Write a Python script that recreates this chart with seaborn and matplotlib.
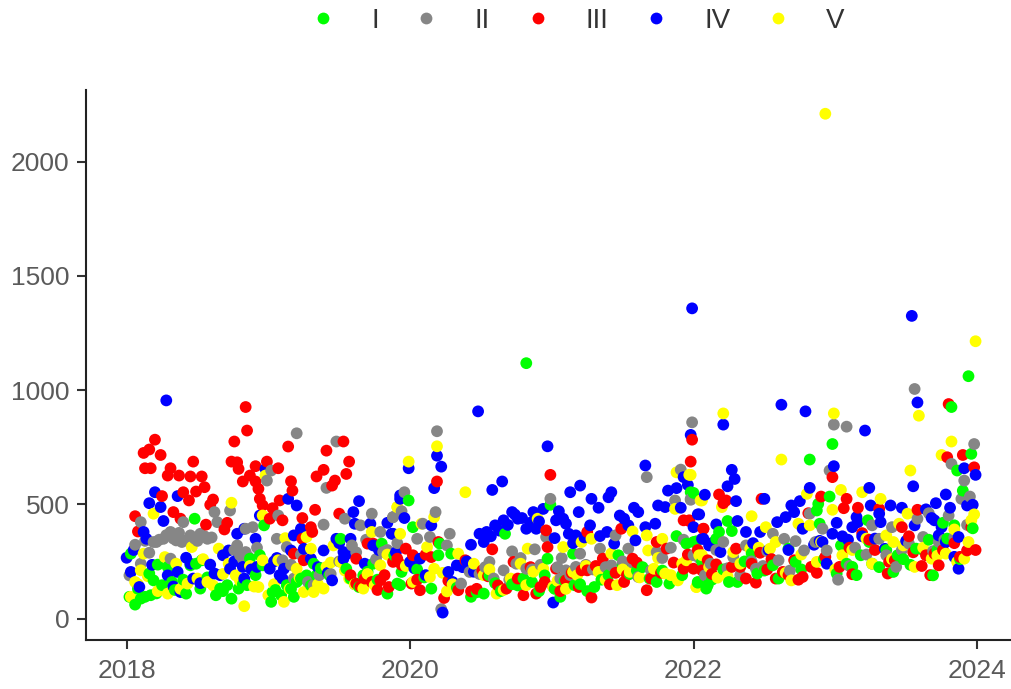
import matplotlib
matplotlib.use("Agg")
import pandas as pd
import matplotlib.pyplot as plt
import seaborn as sns

# values: decimal year / value per group
years_I = [2018.03,2018.02,2018.06,2018.10,2018.13,2018.17,2018.16,2018.22,2018.19,2018.25,2018.29,2018.32,2018.42,2018.45,2018.49,2018.53,2018.52,2018.48,2018.63,2018.66,2018.71,2018.74,2018.79,2018.85,2018.94,2018.96,2018.87,2018.97,2019.02,2019.03,2019.09,2019.18,2019.13,2019.20,2019.27,2019.34,2019.32,2019.51,2019.55,2019.64,2019.67,2019.74,2019.80,2019.84,2019.89,2019.93,
           2019.99,2020.67,2020.99,2021.98,2021.88,2020.02,2019.89,2021.95,2022.02,2020.97,2021.15,2021.47,2020.21,2020.20,2020.29,2019.94,2019.91,2020.15,2020.43,2020.52,2021.06,2021.30,2021.16,2021.74,2021.83,2022.03,2022.09,2020.95,2021.50,2020.56,2020.72,2020.80,2021.25,2021.60,
           2020.82,2023.94,2023.82,2022.82,2022.98,2023.96,2023.86,2023.90,2022.96,2022.88,2022.87,2022.89,2022.24,2022.27,2022.18,2022.16,2022.00,2022.00,2023.23,2023.76,2023.84,2022.25,2022.10,2022.03,2023.69,2023.44,2023.26,2023.12,2023.18,2023.01,2022.45,2022.67,2022.56,2022.72,2023.41,2023.57,2023.24,2023.04,
           2018.08,2018.21,2018.34,2018.40,2018.57,2018.68,2018.82,2018.91,2019.05,2019.16,2019.23,2019.30,2019.37,2019.43,2019.58,2019.61,2019.70,2019.77,2020.05,2020.10,2020.33,2020.47,2020.60,2020.64,2020.76,2020.86,2020.91,2021.02,2021.09,2021.20,2021.35,2021.40,2021.55,2021.64,2021.69,2021.78,2021.92,2022.06,2022.13,2022.21,2022.31,2022.36,2022.41,2022.50,2022.60,2022.76,2022.92,2023.08,2023.15,2023.31,2023.36,2023.48,2023.53,2023.62,2023.66,2023.72,2023.79,2023.88,2023.97]
values_I = [284,95,61,87,95,102,197,236,167,146,226,160,109,233,240,255,131,437,102,131,146,87,131,146,277,233,262,408,73,116,102,95,146,160,189,189,240,349,218,138,189,240,328,109,277,146,
            517,371,498,553,361,400,277,328,338,262,284,277,328,277,284,204,153,131,95,109,95,138,146,160,153,160,131,189,233,189,150,175,120,210,
            1118,1061,926,696,764,721,648,560,534,502,473,415,427,383,379,349,550,335,430,419,408,160,146,157,189,277,240,226,277,197,197,306,233,248,204,306,335,320,
            130,110,125,170,180,120,150,190,125,130,175,145,220,190,175,150,205,170,215,180,135,115,155,120,145,160,120,130,165,150,170,190,195,225,175,210,190,250,170,215,160,250,285,210,175,215,260,240,190,225,300,260,235,300,345,300,350,260,395]

years_II = [2018.06,2018.10,2018.16,2018.21,2018.26,2018.31,2018.35,2018.39,2018.40,2018.45,2018.52,2018.57,2018.31,2018.10,2018.02,2018.62,2018.64,2018.73,2018.78,2018.80,2018.84,2018.89,2018.84,2018.99,2019.02,2019.07,2019.06,2019.13,2019.20,2019.39,2019.41,2019.48,2019.54,2019.73,2019.65,2019.59,2019.32,2019.18,2019.10,2019.79,2019.88,2019.81,
            2020.19,2021.99,2019.96,2020.18,2019.94,2019.88,2020.09,2020.14,2020.05,2020.28,2020.26,2020.99,2021.87,2021.98,2021.91,2021.67,2020.72,2020.78,2020.88,2021.07,2021.20,2021.34,2021.54,2021.74,2020.56,2020.66,2020.82,2021.10,2021.01,2021.06,2021.17,2021.42,2021.61,2020.22,2020.36,2020.42,2022.09,2020.96,2021.45,
            2022.99,2023.08,2023.56,2022.96,2023.98,2023.82,2023.91,2023.95,2023.89,2023.80,2023.66,2023.58,2022.91,2022.82,2021.98,2022.72,2022.56,2022.21,2022.00,2022.08,2022.44,2022.78,2022.94,2023.02,2023.43,2023.36,2023.31,2023.26,2023.40,2023.52,2023.62,2023.73,2022.28,2022.37,2022.64,
            2018.13,2018.19,2018.23,2018.28,2018.33,2018.37,2018.43,2018.48,2018.50,2018.55,2018.60,2018.76,2018.82,2018.86,2018.92,2019.16,2019.23,2019.28,2019.36,2019.44,2019.50,2019.62,2019.69,2019.76,2019.84,2019.91,2020.49,2020.53,2020.59,2020.70,2020.75,2020.86,2020.92,2021.04,2021.13,2021.24,2021.29,2021.38,2021.50,2021.57,2021.70,2021.78,2021.84,2021.93,2022.04,2022.12,2022.16,2022.24,2022.33,2022.41,2022.49,2022.52,2022.60,2022.68,2022.86,2023.10,2023.14,2023.22,2023.47,2023.69,2023.77,2023.84,2023.93]
values_II = [323,422,288,335,349,379,342,335,422,364,371,349,262,240,189,466,422,473,320,277,291,400,393,604,648,451,349,313,811,411,572,775,437,459,408,320,146,175,255,379,444,291,
             820,859,553,466,470,444,415,357,349,371,320,524,517,520,652,619,294,265,303,265,284,306,306,291,248,211,218,211,138,175,226,233,182,41,153,204,189,357,364,
             849,840,1005,648,764,677,604,534,524,451,461,437,393,459,524,339,371,335,277,189,218,298,298,170,226,277,349,408,400,328,357,335,269,320,349,
             340,335,345,365,350,375,345,350,340,360,355,300,260,270,310,235,280,160,190,195,250,290,345,260,300,330,195,225,175,170,240,215,235,225,190,235,215,225,250,245,210,265,310,345,265,240,300,220,190,250,230,295,255,210,335,230,310,280,300,295,345,355,410]

years_III = [2018.06,2018.08,2018.20,2018.16,2018.12,2018.24,2018.13,2018.17,2018.25,2018.31,2018.29,2018.37,2018.45,2018.53,2018.47,2018.55,2018.49,2018.40,2018.44,2018.33,2018.38,2018.56,2018.61,2018.59,2018.71,2018.69,2018.76,2018.85,2018.84,2018.74,2018.78,2018.79,2018.91,2018.99,2019.07,2018.82,2018.87,2018.91,2018.93,2018.94,2018.96,2019.03,2019.08,2019.01,2019.10,2019.14,2019.16,2019.17,2019.24,2019.30,2019.31,2019.33,2019.41,2019.34,2019.39,2019.45,2019.47,2019.53,2019.57,2019.55,2019.50,
             2019.62,2019.70,2019.74,2019.73,2019.62,2019.79,2019.85,2019.88,2019.24,2019.18,2019.25,
             2020.99,2020.19,2021.99,2021.98,2021.93,2021.97,2022.07,2020.96,2020.97,2020.58,2021.25,2021.49,2021.74,2019.97,2019.91,2020.02,2020.15,2020.20,2020.39,2020.24,2020.34,2020.43,2020.07,2020.01,2020.73,2020.51,2020.68,2020.80,2020.89,2020.92,2021.19,2021.10,2021.28,2021.67,2021.21,2021.36,2021.57,2021.81,2021.93,2021.51,2021.03,2021.25,
             2023.80,2022.98,2022.18,2022.21,2022.23,2022.48,2022.90,2023.08,2023.06,2023.16,2023.58,2023.79,2023.90,2023.98,2023.96,2023.47,2023.19,2022.07,2023.31,2021.97,2022.81,2022.44,2022.77,2022.58,2022.16,2022.00,2022.06,2022.27,2022.33,2022.47,2022.63,2022.71,2022.83,2023.03,2023.12,2023.37,2023.38,2023.64,2023.70,2023.73,2023.93,2022.30,
             2019.58,2019.65,2019.68,2019.77,2019.82,2019.94,2020.05,2020.11,2020.27,2020.47,2020.55,2020.62,2020.76,2020.85,2020.95,2021.06,2021.14,2021.31,2021.41,2021.45,2021.53,2021.60,2021.70,2021.77,2021.86,2021.96,2022.03,2022.10,2022.13,2022.37,2022.41,2022.52,2022.55,2022.67,2022.74,2022.87,2022.93,2023.10,2023.24,2023.28,2023.42,2023.52,2023.55,2023.61,2023.67,2023.76,2023.84,2023.88,2023.99]
values_III = [448,381,783,740,725,716,658,658,536,658,626,626,622,622,687,575,556,553,517,466,437,411,521,498,419,390,775,823,926,687,684,655,667,687,658,600,626,600,568,524,495,483,517,437,430,753,601,560,440,400,379,476,735,622,651,582,604,775,687,633,459,
              262,328,328,160,153,167,138,248,349,284,255,
              629,600,783,687,430,427,393,386,313,303,379,393,335,306,262,277,269,335,255,90,124,119,124,153,248,211,131,102,109,138,138,167,92,124,211,262,262,306,218,160,218,211,
              939,619,543,505,517,524,534,524,483,485,476,706,716,662,400,400,374,393,480,430,461,157,182,175,237,218,211,226,226,288,204,255,226,226,194,197,248,277,284,233,298,306,
              190,140,175,125,190,235,170,280,165,130,185,145,175,225,160,120,200,230,150,200,190,245,175,200,245,280,300,255,195,175,240,215,260,190,170,200,270,310,345,300,255,360,290,230,190,300,330,270,300]

years_IV = [2018.28,2018.20,2018.16,2018.24,2018.36,2018.26,2018.12,2018.14,2018.00,2018.03,2018.09,2018.29,2018.36,2018.42,2018.38,2018.47,2018.59,2018.62,2018.68,2018.72,2018.83,2018.78,2018.91,2018.94,2018.98,2019.06,2019.01,2019.11,2019.10,2018.82,2018.73,2018.83,2018.92,2019.14,2019.20,2019.16,2019.23,2019.18,2019.30,2019.39,2019.45,2019.53,2019.48,2019.64,2019.60,2019.61,2019.72,2019.58,2019.53,2019.84,2019.74,2019.87,2019.93,
            2020.48,2020.97,2020.65,2020.58,2019.99,2020.19,2020.22,2020.17,2019.93,2019.96,2020.15,2019.88,2020.43,2020.49,2020.54,2020.60,2020.66,2020.72,2020.76,2020.82,2020.87,2020.94,2020.89,2021.03,2021.08,2021.10,2021.02,2021.13,2021.20,2021.19,2021.28,2021.33,2021.27,2021.12,2021.17,2021.34,2021.39,2021.42,2021.40,2021.48,2021.51,2021.54,2021.58,2021.61,2021.59,2021.66,2021.75,2021.80,2021.82,2021.88,2021.91,2021.93,2021.96,2022.03,2022.08,2021.98,2022.00,2021.66,2021.73,2021.44,2022.06,2021.01,2020.23,2020.27,2020.33,2020.07,2020.00,
            2021.99,2023.54,2022.62,2022.79,2023.21,2023.58,2022.21,2022.27,2022.29,2022.24,2022.30,2022.50,2022.04,2022.31,2022.16,2022.82,2022.99,2023.24,2023.55,2023.99,2023.91,2023.78,2023.71,2023.81,2023.93,2023.97,2023.39,2023.47,2023.25,2023.64,2023.31,2022.75,2022.69,2022.71,2022.65,2022.59,2023.01,2023.15,2023.16,2022.77,2022.98,2023.05,2022.91,2022.85,2022.94,2022.37,2022.47,2022.11,2022.19,2022.07,2023.87,2023.87,2023.73,2023.78,2023.56,2023.70,2023.32,
            2018.05,2018.18,2018.33,2018.45,2018.52,2018.66,2018.76,2018.88,2019.04,2019.08,2019.25,2019.35,2019.42,2019.50,2019.56,2019.68,2019.78,2019.90,2020.03,2020.11,2020.30,2020.37,2020.40,2020.45,2020.52,2020.57,2020.63,2020.69,2020.74,2020.79,2020.85,2020.91,2021.05,2021.15,2021.23,2022.13,2022.42,2022.53,2022.67,2022.89,2023.09,2023.12,2023.19,2023.28,2023.35,2023.50,2023.68,2023.75,2023.84]
values_IV = [955,553,505,488,536,427,379,349,266,204,138,189,204,266,116,175,236,197,277,298,393,371,349,451,655,265,218,218,175,226,218,175,226,524,495,298,393,364,262,298,167,291,349,514,466,415,415,349,262,419,320,371,524,
             907,754,600,563,658,713,665,571,539,440,408,371,323,371,379,408,430,466,437,393,466,480,393,430,437,415,352,553,582,466,524,485,408,371,364,361,379,553,531,451,437,408,485,466,342,670,495,488,560,571,485,619,585,456,542,804,400,400,415,328,349,70,26,204,233,262,248,
             1358,1325,936,907,823,946,849,651,611,579,514,524,456,427,412,572,667,572,579,629,658,543,505,485,495,498,495,485,495,478,459,514,495,466,444,422,419,444,422,393,371,360,335,323,240,379,379,320,291,349,218,357,364,335,408,430,422,
             300,235,140,240,155,190,250,215,250,190,305,225,200,330,285,240,300,290,220,190,160,225,250,205,335,360,385,410,455,440,420,425,470,330,355,330,330,300,300,340,345,400,360,350,305,340,440,400,270]

years_V = [2018.74,2018.98,2018.96,2018.19,2018.46,2018.65,2018.27,2018.12,2018.03,2018.83,2018.93,2018.10,2018.06,2018.29,2018.43,2018.57,2018.77,2018.72,2018.96,2019.11,2019.00,2019.25,2019.32,2019.39,2019.30,2019.27,2019.12,2019.20,2019.41,2019.57,2019.67,2019.46,2019.51,2019.73,2019.91,2019.79,2019.75,
           2019.99,2020.19,2020.39,2020.17,2019.91,2019.93,2020.08,2020.90,2020.83,2021.08,2021.21,2021.28,2021.57,2021.67,2021.68,2021.78,2021.88,2021.97,2021.87,2022.05,2020.12,2020.34,2020.17,2020.02,2020.14,2020.26,2020.45,2020.61,2020.94,2021.01,2021.33,2021.46,2021.72,2021.89,2022.02,2022.04,2021.55,2021.80,2021.95,2021.15,2020.82,
           2022.93,2023.99,2022.21,2022.99,2023.59,2022.62,2023.82,2023.75,2023.53,2021.98,2022.41,2023.04,2023.19,2023.32,2022.80,2022.98,2023.51,2023.98,2022.51,2022.74,2022.06,2022.20,2022.82,2023.94,2023.91,2023.86,2023.56,2022.17,2022.02,2022.69,2022.54,2022.58,2023.41,2023.45,2022.06,2022.28,2022.40,2023.05,2023.26,2023.78,2023.68,2023.36,2022.87,
           2018.08,2018.15,2018.22,2018.35,2018.38,2018.50,2018.54,2018.61,2018.68,2018.80,2018.87,2018.90,2019.04,2019.07,2019.15,2019.22,2019.35,2019.44,2019.54,2019.61,2019.70,2019.84,2019.97,2020.04,2020.23,2020.30,2020.52,2020.56,2020.66,2020.71,2020.78,2020.87,2021.04,2021.10,2021.18,2021.24,2021.38,2021.42,2021.50,2021.62,2021.75,2021.84,2021.92,2022.11,2022.24,2022.33,2022.46,2022.65,2022.76,2022.90,2023.00,2023.12,2023.22,2023.40,2023.48,2023.62,2023.72,2023.84,2023.96]
values_V = [507,626,451,459,313,306,269,284,95,54,138,211,160,109,153,160,189,240,255,73,102,116,116,131,306,357,352,218,226,175,131,320,248,379,488,233,146,
            687,754,553,444,488,371,415,437,306,313,335,349,381,364,298,349,640,629,480,517,313,284,218,160,182,119,240,109,218,138,204,146,218,167,138,277,204,197,255,204,146,
            2210,1214,898,898,888,696,775,716,648,629,448,563,553,524,546,476,459,456,400,415,517,488,408,335,262,248,226,179,138,167,306,335,335,415,277,291,306,277,240,284,262,364,248,
            150,185,120,240,130,175,260,145,195,165,230,140,150,255,130,180,150,245,210,150,195,280,230,165,200,150,190,215,125,175,240,205,165,130,190,230,170,285,215,180,265,190,240,225,185,240,310,200,280,335,215,300,350,260,320,310,275,390,430]

group_order = ["I", "II", "III", "IV", "V"]
group_colors = {"I": "#00FF00", "II": "#868686", "III": "#FF0000", "IV": "#0000FF", "V": "#FFFF00"}

frames = []
for name, xs, ys in [("I", years_I, values_I), ("II", years_II, values_II), ("III", years_III, values_III),
                     ("IV", years_IV, values_IV), ("V", years_V, values_V)]:
    frames.append(pd.DataFrame({"year": xs, "value": ys, "group": name}))
# rows run by date so colours overlap each other like in the original
df = pd.concat(frames).sort_values("year", kind="stable").reset_index(drop=True)

sns.set_theme(style="ticks")
plt.rcParams["font.family"] = ["Liberation Sans", "DejaVu Sans"]

fig = plt.figure(figsize=(10.11, 6.89), dpi=100)
ax = fig.add_axes([85.5 / 1011, 1 - 640 / 689, (1011 - 85.5) / 1011, (640 - 90) / 689])

sns.scatterplot(data=df, x="year", y="value", hue="group", hue_order=group_order,
                palette=group_colors, s=72, linewidth=0, ax=ax)

ax.set_xlim(2017.71, 2024.24)
ax.set_ylim(-94, 2314)
ax.set_xticks([2018, 2020, 2022, 2024])
ax.set_xticklabels(["2018", "2020", "2022", "2024"])
ax.set_yticks([0, 500, 1000, 1500, 2000])
ax.set_xlabel("")
ax.set_ylabel("")
ax.tick_params(axis="both", labelsize=19, labelcolor="#5A5A5A", color="#333333", width=1.5, length=6.5, pad=5)
ax.tick_params(axis="x", pad=7)
sns.despine(ax=ax)
for side in ["left", "bottom"]:
    ax.spines[side].set_linewidth(1.5)
    ax.spines[side].set_color("#222222")

sns.move_legend(ax, "center", bbox_to_anchor=(0.531, (640 - 21) / 550), ncol=5, title=None, frameon=False,
                fontsize=20, handlelength=1, handletextpad=1.23, columnspacing=1.22)
for txt in ax.get_legend().get_texts():
    txt.set_color("#333333")

fig.savefig("out.png", dpi=100)
